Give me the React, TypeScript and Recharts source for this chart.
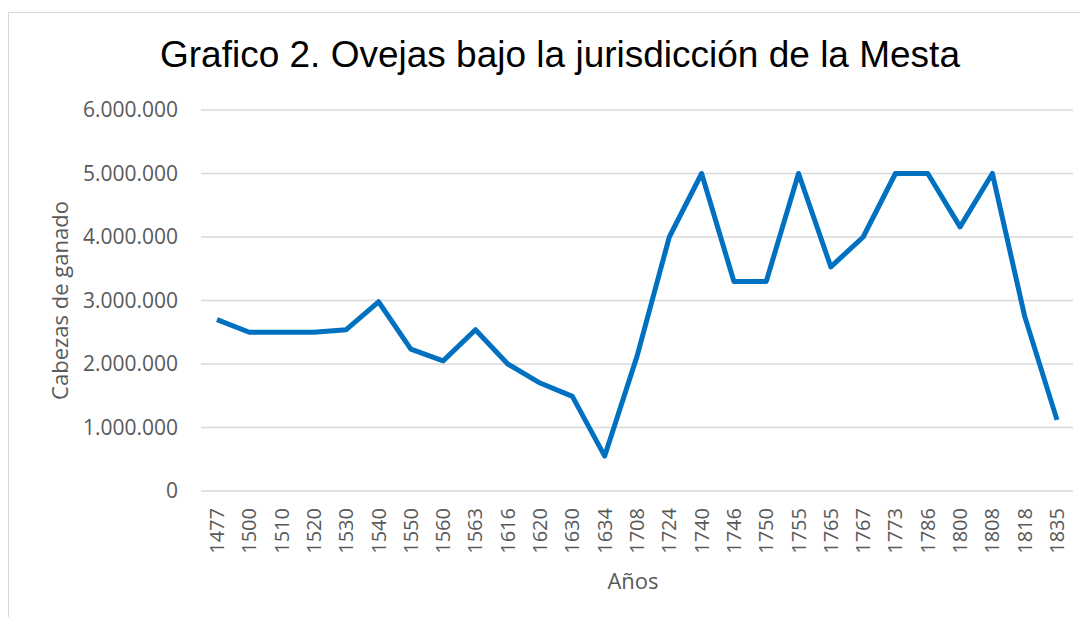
import { LineChart, Line, XAxis, YAxis, CartesianGrid, Label } from 'recharts';

// Sheep under the Mesta
const years = [
  '1477', '1500', '1510', '1520', '1530', '1540', '1550', '1560', '1563',
  '1616', '1620', '1630', '1634', '1708', '1724', '1740', '1746', '1750',
  '1755', '1765', '1767', '1773', '1786', '1800', '1808', '1818', '1835',
];
const sheep = [
  2700000, 2500000, 2500000, 2500000, 2540000, 2980000, 2235000, 2050000, 2540000,
  2000000, 1700000, 1490000, 550000, 2120000, 4000000, 5000000, 3300000, 3300000,
  5000000, 3530000, 4000000, 5000000, 5000000, 4160000, 5000000, 2750000, 1120000,
];
const yTicks = [0, 1000000, 2000000, 3000000, 4000000, 5000000, 6000000];

const TITLE = 'Grafico 2. Ovejas bajo la jurisdicción de la Mesta';
const GREY = '#595959';
const FONT = '"Open Sans", "Noto Sans", sans-serif';

// 6000000 -> "6.000.000"
const fmt = (n: number) => String(n).replace(/\B(?=(\d{3})+(?!\d))/g, '.');

const XTick = ({ x, y, payload }: any) => {
  const ty = y + 17;
  return (
    <text
      x={x}
      y={ty}
      transform={`rotate(-90 ${x} ${ty})`}
      textAnchor="end"
      dy="0.35em"
      fill={GREY}
      fontSize={20}
      fontFamily={FONT}
    >
      {payload.value}
    </text>
  );
};

export default function App() {
  const data = years.map((year, i) => ({ year, value: sheep[i] }));

  return (
    <div
      style={{
        position: 'relative',
        top: 4,
        width: 1080,
        height: 608,
        borderTop: '1px solid #d9d9d9',
        borderLeft: '1px solid #d9d9d9',
        overflow: 'hidden',
        background: '#fff',
        fontFamily: FONT,
      }}
    >
      <div
        style={{
          position: 'absolute',
          top: 23,
          left: 0,
          width: 1102,
          textAlign: 'center',
          fontFamily: '"Liberation Sans", Arial, sans-serif',
          fontSize: 37,
          lineHeight: '37px',
          color: '#000',
        }}
      >
        {TITLE}
      </div>
      <LineChart
        width={1080}
        height={608}
        data={data}
        margin={{ top: 97, right: 16, left: 0, bottom: 0 }}
      >
        <CartesianGrid vertical={false} stroke="#d9d9d9" strokeWidth={1.3} />
        <XAxis
          dataKey="year"
          height={130}
          interval={0}
          axisLine={false}
          tickLine={false}
          tickSize={0}
          tickMargin={0}
          padding={{ left: 16, right: 16 }}
          tick={<XTick />}
        >
          <Label
            content={({ viewBox }: any) => (
              <text
                x={viewBox.x + viewBox.width / 2 - 4}
                y={viewBox.y + 89}
                textAnchor="middle"
                dominantBaseline="central"
                fill={GREY}
                fontSize={22}
                fontFamily={FONT}
              >
                Años
              </text>
            )}
          />
        </XAxis>
        <YAxis
          width={192}
          domain={[0, 6000000]}
          ticks={yTicks}
          interval={0}
          axisLine={false}
          tickLine={false}
          tickSize={0}
          tickMargin={23}
          tickFormatter={fmt}
          tick={{ fill: GREY, fontSize: 21, fontFamily: FONT }}
        >
          <Label
            content={({ viewBox }: any) => {
              const cx = viewBox.x + 50;
              const cy = viewBox.y + viewBox.height / 2;
              return (
                <text
                  x={cx}
                  y={cy}
                  transform={`rotate(-90 ${cx} ${cy})`}
                  textAnchor="middle"
                  dominantBaseline="central"
                  fill={GREY}
                  fontSize={22}
                  fontFamily={FONT}
                >
                  Cabezas de ganado
                </text>
              );
            }}
          />
        </YAxis>
        <Line
          type="linear"
          dataKey="value"
          stroke="#0070c0"
          strokeWidth={5}
          strokeLinejoin="round"
          dot={false}
          activeDot={false}
          isAnimationActive={false}
        />
      </LineChart>
    </div>
  );
}
